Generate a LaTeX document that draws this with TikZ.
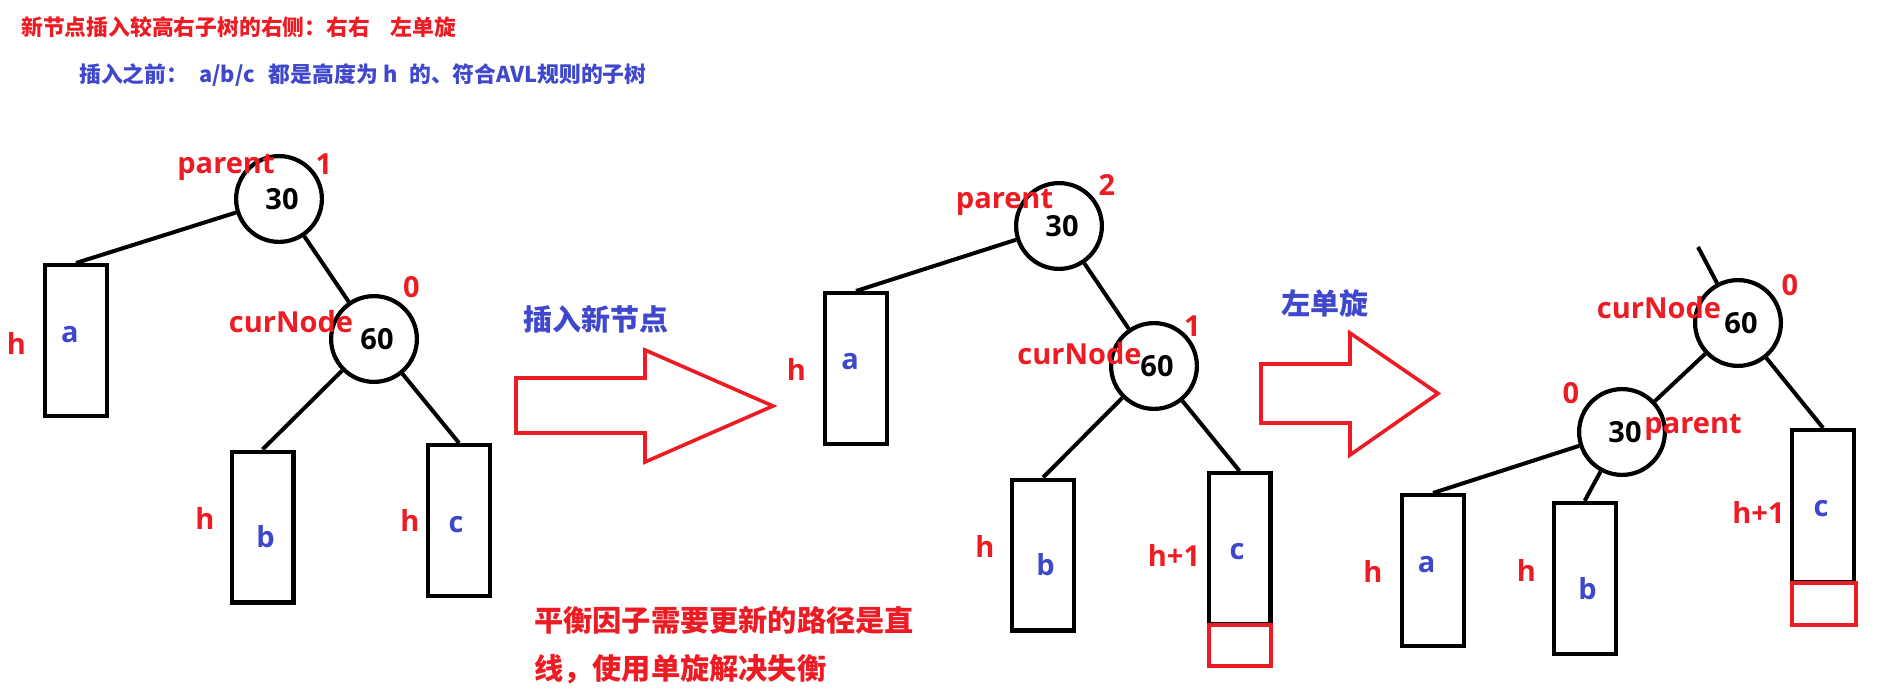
\documentclass[tikz,border=0pt]{standalone}
\usepackage{fontspec}
\newfontfamily\cjk{Noto Sans CJK SC}
\newfontfamily\lat{Open Sans}
\definecolor{myred}{RGB}{237,28,36}
\definecolor{myblue}{RGB}{63,72,204}
\tikzset{
  tnode/.style={circle, draw=black, line width=4.2pt, minimum size=85.8pt, inner sep=0pt,
    font=\lat\bfseries\fontsize{29}{34}\selectfont},
  sub/.style={rectangle, draw=black, line width=4.2pt, minimum width=61.8pt,
    minimum height=150.8pt, inner sep=0pt},
  newbox/.style={rectangle, draw=myred, line width=4pt, minimum width=62pt,
    minimum height=41pt, inner sep=0pt},
  link/.style={draw=black, line width=4pt},
  rl/.style={text=myred, inner sep=0pt, font=\lat\bfseries\fontsize{29}{34}\selectfont},
  bl/.style={text=myblue, inner sep=0pt, font=\lat\bfseries\fontsize{29}{34}\selectfont},
  cjkred/.style={text=myred, inner sep=0pt, anchor=west},
  cjkblue/.style={text=myblue, inner sep=0pt},
  bigarrow/.style={draw=myred, line width=3.6pt, line join=miter},
}
\begin{document}
\begin{tikzpicture}[x=1pt,y=-1pt]
\useasboundingbox[fill=white] (0,0) rectangle (1887,700);

% ---------- headings ----------
\node[cjkred, font=\cjk\bfseries\fontsize{21.8}{26}\selectfont] (title) at (21,27)
  {新节点插入较高右子树的右侧：右右\hspace{21pt}左单旋};
\node[cjkblue, anchor=west, font=\cjk\bfseries\fontsize{21.8}{26}\selectfont] (subtitle) at (79,75)
  {插入之前：\hspace{11pt}a/b/c\hspace{14pt}都是高度为\hspace{6pt}h\hspace{11pt}的、符合AVL规则的子树};

% ---------- tree 1 ----------
\node[tnode] (p1) at (279,199) {\hspace*{6pt}30};
\node[tnode] (c1) at (374,339) {\hspace*{6pt}60};
\node[sub] (a1) at (76,340.5) {};
\node[sub] (b1) at (262.5,527) {};
\node[sub] (cc1) at (459,520.5) {};
\draw[link] (p1) -- (a1.north);
\draw[link] (p1) -- (c1);
\draw[link] (c1) -- (b1.north);
\draw[link] (c1) -- (cc1.north);
\node[rl] (par1) at (226,167.5) {parent};
\node[rl] (bf1) at (324,164) {1};
\node[rl] (cur1) at (291,321.5) {curNode};
\node[rl] (bf2) at (411.5,287.5) {0};
\node[bl] (la1) at (70,335) {a};
\node[rl] (ha1) at (16.5,343) {h};
\node[bl] (lb1) at (265.5,536.5) {b};
\node[rl] (hb1) at (205,518.5) {h};
\node[bl] (lc1) at (456,525) {c};
\node[rl] (hc1) at (410,520) {h};

% ---------- arrow 1 ----------
\draw[bigarrow] (516,378) -- (645,378) -- (645,350) -- (773,406) -- (645,462) -- (645,433) -- (516,433) -- cycle;
\node[cjkblue, font=\cjk\bfseries\fontsize{29}{34}\selectfont] (ins) at (596,319.5) {插入新节点};

% ---------- tree 2 ----------
\node[tnode] (p2) at (1059,226) {\hspace*{6pt}30};
\node[tnode] (c2) at (1154,366) {\hspace*{6pt}60};
\node[sub] (a2) at (856,368.5) {};
\node[sub] (b2) at (1043,555) {};
\node[sub] (cc2) at (1239.5,548.5) {};
\node[newbox] (nb2) at (1240,645.8) {};
\draw[link] (p2) -- (a2.north);
\draw[link] (p2) -- (c2);
\draw[link] (c2) -- (b2.north);
\draw[link] (c2) -- (cc2.north);
\node[rl] (par2) at (1004.5,202.5) {parent};
\node[rl] (bf3) at (1107,185.5) {2};
\node[rl] (cur2) at (1079.5,354) {curNode};
\node[rl] (bf4) at (1192.5,326) {1};
\node[bl] (la2) at (850,361.5) {a};
\node[rl] (ha2) at (796.5,369.5) {h};
\node[bl] (lb2) at (1045.5,564.5) {b};
\node[rl] (hb2) at (985,546.5) {h};
\node[bl] (lc2) at (1237,551.5) {c};
\node[rl] (hc2) at (1174,555) {h+1};

% ---------- arrow 2 ----------
\draw[bigarrow] (1261,364) -- (1350,364) -- (1350,333) -- (1438,393.5) -- (1350,455) -- (1350,423) -- (1261,423) -- cycle;
\node[cjkblue, font=\cjk\bfseries\fontsize{29}{34}\selectfont] (rot) at (1324.5,303.5) {左单旋};

% ---------- tree 3 ----------
\coordinate (up3) at (1698,247);
\node[tnode] (c3) at (1738,323) {\hspace*{6pt}60};
\node[tnode] (p3) at (1622,432) {\hspace*{6pt}30};
\node[sub] (a3) at (1433,570.5) {};
\node[sub] (b3) at (1584.7,578.3) {};
\node[sub, minimum height=152pt] (cc3) at (1823,506) {};
\node[newbox, minimum width=64pt, minimum height=42pt] (nb3) at (1824,603.7) {};
\draw[link] (up3) -- (c3);
\draw[link] (c3) -- (p3);
\draw[link] (c3) -- (cc3.north);
\draw[link] (p3) -- (a3.north);
\draw[link] (p3) -- (b3.north);
\node[rl] (cur3) at (1659,308) {curNode};
\node[rl] (bf5) at (1790,285) {0};
\node[rl] (bf6) at (1571,393) {0};
\node[rl] (par3) at (1693,427) {parent};
\node[bl] (lc3) at (1821,508.5) {c};
\node[rl] (hc3) at (1758.5,512.5) {h+1};
\node[bl] (la3) at (1426.5,565) {a};
\node[rl] (ha3) at (1373,571.5) {h};
\node[bl] (lb3) at (1587.5,588.5) {b};
\node[rl] (hb3) at (1526.5,570) {h};

% ---------- bottom note ----------
\node[cjkred, font=\cjk\bfseries\fontsize{29.2}{34}\selectfont] (note1) at (534,620.5) {平衡因子需要更新的路径是直};
\node[cjkred, font=\cjk\bfseries\fontsize{29.2}{34}\selectfont] (note2) at (534,669.5) {线，使用单旋解决失衡};
\end{tikzpicture}
\end{document}
